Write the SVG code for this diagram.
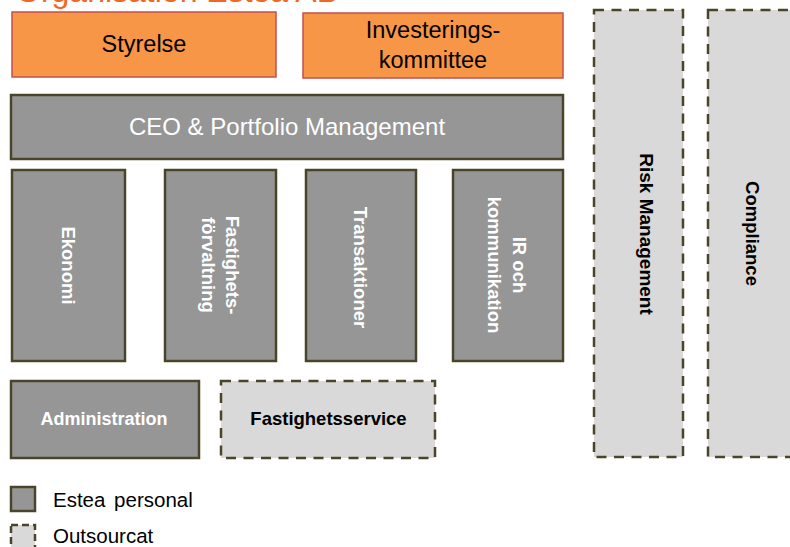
<svg xmlns="http://www.w3.org/2000/svg" width="790" height="547" viewBox="0 0 790 547">
<style>
  .orange { fill: #F79646; stroke: #C0504D; stroke-width: 1.5; }
  .staff { fill: #969696; stroke: #4A452A; stroke-width: 2.5; }
  .out { fill: #D9D9D9; stroke: #4A452A; stroke-width: 2.5; stroke-dasharray: 10 7.5; }
  .t { font-family: "Liberation Sans", Arial, sans-serif; }
  .blk { fill: #000000; }
  .wht { fill: #FFFFFF; }
  .b { font-weight: bold; }
</style>
<rect width="790" height="547" fill="#FFFFFF"/>

<text id="title" class="t" x="16" y="2" font-size="32" fill="#F26522">Organisation Estea AB</text>

<g id="styrelse">
  <rect class="orange" x="12" y="12" width="264" height="65"/>
  <text class="t blk" x="144" y="52" font-size="23.5" text-anchor="middle">Styrelse</text>
</g>
<g id="investeringskommittee">
  <rect class="orange" x="303" y="13" width="260" height="65"/>
  <text class="t blk" x="433" y="38" font-size="23.5" text-anchor="middle">Investerings-</text>
  <text class="t blk" x="433" y="67.5" font-size="23.5" text-anchor="middle">kommittee</text>
</g>
<g id="ceo">
  <rect class="staff" x="11" y="95" width="552" height="64"/>
  <text class="t wht" x="287" y="135" font-size="24" text-anchor="middle">CEO &amp; Portfolio Management</text>
</g>
<g id="ekonomi">
  <rect class="staff" x="12" y="170" width="113" height="191"/>
  <text class="t wht b" transform="translate(68.5,265.5) rotate(90)" text-anchor="middle" dy="0.35em" font-size="18.5">Ekonomi</text>
</g>
<g id="fastighetsforvaltning">
  <rect class="staff" x="165" y="170" width="111" height="191"/>
  <g transform="translate(220,265) rotate(90)">
    <text class="t wht b" x="0" y="-12" text-anchor="middle" dy="0.35em" font-size="18.5">Fastighets-</text>
    <text class="t wht b" x="0" y="12" text-anchor="middle" dy="0.35em" font-size="18.5">förvaltning</text>
  </g>
</g>
<g id="transaktioner">
  <rect class="staff" x="306" y="170" width="110" height="191"/>
  <text class="t wht b" transform="translate(360.5,267.5) rotate(90)" text-anchor="middle" dy="0.35em" font-size="18.5">Transaktioner</text>
</g>
<g id="ir">
  <rect class="staff" x="453" y="170" width="110" height="191"/>
  <g transform="translate(507,265) rotate(90)">
    <text class="t wht b" x="0" y="-12.5" text-anchor="middle" dy="0.35em" font-size="18.5">IR och</text>
    <text class="t wht b" x="0" y="12.5" text-anchor="middle" dy="0.35em" font-size="18.5">kommunikation</text>
  </g>
</g>
<g id="risk">
  <rect class="out" x="594" y="10" width="89" height="447"/>
  <text class="t blk b" transform="translate(647,234) rotate(90)" text-anchor="middle" dy="0.35em" font-size="19">Risk Management</text>
</g>
<g id="compliance">
  <rect class="out" x="708" y="10" width="100" height="447"/>
  <text class="t blk b" transform="translate(752,233.5) rotate(90)" text-anchor="middle" dy="0.35em" font-size="18.5">Compliance</text>
</g>
<g id="administration">
  <rect class="staff" x="11" y="381" width="188" height="77"/>
  <text class="t wht b" x="104" y="425" font-size="18" text-anchor="middle">Administration</text>
</g>
<g id="fastighetsservice">
  <rect class="out" x="221" y="381" width="214" height="77"/>
  <text class="t blk b" x="328.5" y="425" font-size="18.5" text-anchor="middle">Fastighetsservice</text>
</g>

<g id="legend">
  <rect class="staff" x="11" y="487" width="24" height="24"/>
  <text class="t blk" x="53" y="507" font-size="20.5" word-spacing="3">Estea personal</text>
  <rect class="out" x="11" y="525" width="24" height="24" style="stroke-dasharray:7 4"/>
  <text class="t blk" x="53" y="543" font-size="20.5">Outsourcat</text>
</g>
</svg>
